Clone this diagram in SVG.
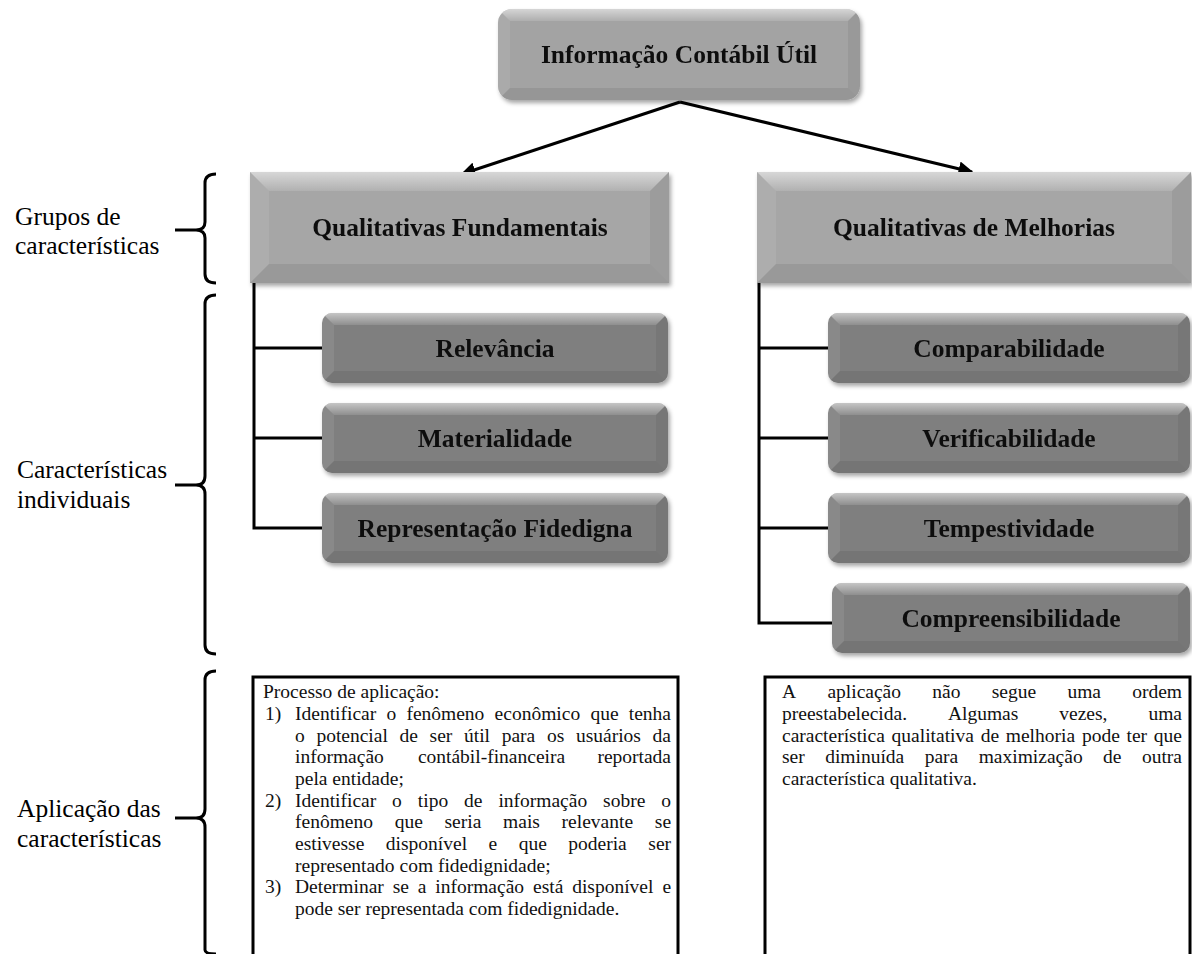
<svg xmlns="http://www.w3.org/2000/svg" width="1192" height="954" viewBox="0 0 1192 954">
  <style>
    .lbl { font-family: "Liberation Serif", "Times New Roman", serif; font-size: 25.5px; fill: #000; }
    .node-t { font-family: "Liberation Serif", "Times New Roman", serif; font-size: 25.5px; font-weight: bold; fill: #111; text-anchor: middle; }
    .body { font-family: "Liberation Serif", "Times New Roman", serif; font-size: 19.5px; fill: #111; }
    .wire { fill: none; stroke: #000; stroke-width: 3; }
    .brace { fill: none; stroke: #000; stroke-width: 3; stroke-linejoin: round; }
    .card { fill: #fff; stroke: #000; stroke-width: 3; }
    .g-base { fill: #a6a6a6; }
    .c-base { fill: #7f7f7f; }
    .t-base { fill: #a3a3a3; }
    .bv-top { fill: url(#bvTop); }
    .bv-left { fill: #ffffff; fill-opacity: 0.08; }
    .bv-right { fill: #000000; fill-opacity: 0.06; }
    .bv-bot { fill: #000000; fill-opacity: 0.08; }
  </style>
  <defs>
    <linearGradient id="bvTop" x1="0" y1="0" x2="0" y2="1">
      <stop offset="0" stop-color="#fff" stop-opacity="0.55"/>
      <stop offset="1" stop-color="#fff" stop-opacity="0.12"/>
    </linearGradient>
    <filter id="shadow" x="-5%" y="-10%" width="112%" height="130%">
      <feDropShadow dx="2" dy="3" stdDeviation="2" flood-color="#000" flood-opacity="0.35"/>
    </filter>
    <marker id="arrow" viewBox="0 0 10 10" refX="9" refY="5" markerWidth="5" markerHeight="5" orient="auto" markerUnits="strokeWidth">
      <path d="M0,0 L10,5 L0,10 z" fill="#000"/>
    </marker>
    <clipPath id="clipTop"><rect x="498" y="9" width="362" height="91" rx="14"/></clipPath>
    <clipPath id="clipL1"><rect x="322" y="313" width="346" height="70" rx="10"/></clipPath>
    <clipPath id="clipL2"><rect x="322" y="403" width="346" height="70" rx="10"/></clipPath>
    <clipPath id="clipL3"><rect x="322" y="493" width="346" height="70" rx="10"/></clipPath>
    <clipPath id="clipR1"><rect x="828" y="313" width="362" height="70" rx="10"/></clipPath>
    <clipPath id="clipR2"><rect x="828" y="403" width="362" height="70" rx="10"/></clipPath>
    <clipPath id="clipR3"><rect x="828" y="493" width="362" height="70" rx="10"/></clipPath>
    <clipPath id="clipR4"><rect x="832" y="583" width="358" height="70" rx="10"/></clipPath>
  </defs>

  <rect width="1192" height="954" fill="#fff"/>

  <!-- Connectors -->
  <g id="connectors">
    <line class="wire" x1="680" y1="102" x2="462" y2="174" marker-end="url(#arrow)"/>
    <line class="wire" x1="680" y1="102" x2="972" y2="172" marker-end="url(#arrow)"/>
    <polyline class="wire" points="254,283 254,528 322,528"/>
    <line class="wire" x1="254" y1="348" x2="322" y2="348"/>
    <line class="wire" x1="254" y1="438" x2="322" y2="438"/>
    <polyline class="wire" points="759,283 759,623 832,623"/>
    <line class="wire" x1="759" y1="348" x2="828" y2="348"/>
    <line class="wire" x1="759" y1="438" x2="828" y2="438"/>
    <line class="wire" x1="759" y1="528" x2="828" y2="528"/>
  </g>

  <!-- Row braces and labels -->
  <g id="row-groups">
    <path class="brace" d="M216,174 Q205,174 205,183 L205,222 Q205,230 196,230 L175,230 M196,230 Q205,230 205,238 L205,274 Q205,283 216,283"/>
    <text class="lbl" x="15" y="225">Grupos de</text>
    <text class="lbl" x="15" y="254">características</text>
  </g>
  <g id="row-individual">
    <path class="brace" d="M216,295 Q205,295 205,304 L205,476 Q205,485 196,485 L175,485 M196,485 Q205,485 205,494 L205,645 Q205,654 216,654"/>
    <text class="lbl" x="17" y="478">Características</text>
    <text class="lbl" x="17" y="508">individuais</text>
  </g>
  <g id="row-application">
    <path class="brace" d="M216,671 Q205,671 205,680 L205,809 Q205,818 196,818 L175,818 M196,818 Q205,818 205,827 L205,950 Q205,954 216,954"/>
    <text class="lbl" x="17" y="817">Aplicação das</text>
    <text class="lbl" x="17" y="847">características</text>
  </g>

  <!-- Root node -->
  <g id="node-root" filter="url(#shadow)">
    <rect class="t-base" x="498" y="9" width="362" height="91" rx="14"/>
    <g clip-path="url(#clipTop)">
      <polygon class="bv-top" points="498,9 860,9 848,21 510,21"/>
      <polygon class="bv-left" points="498,9 510,21 510,88 498,100"/>
      <polygon class="bv-right" points="860,9 848,21 848,88 860,100"/>
      <polygon class="bv-bot" points="498,100 860,100 848,88 510,88"/>
    </g>
    <text class="node-t" x="679" y="63">Informação Contábil Útil</text>
  </g>

  <!-- Group nodes -->
  <g id="node-fundamentais" filter="url(#shadow)">
    <rect class="g-base" x="250" y="172" width="419" height="111"/>
    <polygon class="bv-top" points="250,172 669,172 650,191 269,191"/>
    <polygon class="bv-left" points="250,172 269,191 269,264 250,283"/>
    <polygon class="bv-right" points="669,172 650,191 650,264 669,283"/>
    <polygon class="bv-bot" points="250,283 669,283 650,264 269,264"/>
    <text class="node-t" x="460" y="236">Qualitativas Fundamentais</text>
  </g>
  <g id="node-melhorias" filter="url(#shadow)">
    <rect class="g-base" x="757" y="172" width="434" height="111"/>
    <polygon class="bv-top" points="757,172 1191,172 1172,191 776,191"/>
    <polygon class="bv-left" points="757,172 776,191 776,264 757,283"/>
    <polygon class="bv-right" points="1191,172 1172,191 1172,264 1191,283"/>
    <polygon class="bv-bot" points="757,283 1191,283 1172,264 776,264"/>
    <text class="node-t" x="974" y="236">Qualitativas de Melhorias</text>
  </g>

  <!-- Fundamental characteristics -->
  <g id="node-relevancia" filter="url(#shadow)">
    <rect class="c-base" x="322" y="313" width="346" height="70" rx="10"/>
    <g clip-path="url(#clipL1)">
      <polygon class="bv-top" points="322,313 668,313 656,325 334,325"/>
      <polygon class="bv-left" points="322,313 334,325 334,371 322,383"/>
      <polygon class="bv-right" points="668,313 656,325 656,371 668,383"/>
      <polygon class="bv-bot" points="322,383 668,383 656,371 334,371"/>
    </g>
    <text class="node-t" x="495" y="357">Relevância</text>
  </g>
  <g id="node-materialidade" filter="url(#shadow)">
    <rect class="c-base" x="322" y="403" width="346" height="70" rx="10"/>
    <g clip-path="url(#clipL2)">
      <polygon class="bv-top" points="322,403 668,403 656,415 334,415"/>
      <polygon class="bv-left" points="322,403 334,415 334,461 322,473"/>
      <polygon class="bv-right" points="668,403 656,415 656,461 668,473"/>
      <polygon class="bv-bot" points="322,473 668,473 656,461 334,461"/>
    </g>
    <text class="node-t" x="495" y="447">Materialidade</text>
  </g>
  <g id="node-representacao" filter="url(#shadow)">
    <rect class="c-base" x="322" y="493" width="346" height="70" rx="10"/>
    <g clip-path="url(#clipL3)">
      <polygon class="bv-top" points="322,493 668,493 656,505 334,505"/>
      <polygon class="bv-left" points="322,493 334,505 334,551 322,563"/>
      <polygon class="bv-right" points="668,493 656,505 656,551 668,563"/>
      <polygon class="bv-bot" points="322,563 668,563 656,551 334,551"/>
    </g>
    <text class="node-t" x="495" y="537">Representação Fidedigna</text>
  </g>

  <!-- Enhancing characteristics -->
  <g id="node-comparabilidade" filter="url(#shadow)">
    <rect class="c-base" x="828" y="313" width="362" height="70" rx="10"/>
    <g clip-path="url(#clipR1)">
      <polygon class="bv-top" points="828,313 1190,313 1178,325 840,325"/>
      <polygon class="bv-left" points="828,313 840,325 840,371 828,383"/>
      <polygon class="bv-right" points="1190,313 1178,325 1178,371 1190,383"/>
      <polygon class="bv-bot" points="828,383 1190,383 1178,371 840,371"/>
    </g>
    <text class="node-t" x="1009" y="357">Comparabilidade</text>
  </g>
  <g id="node-verificabilidade" filter="url(#shadow)">
    <rect class="c-base" x="828" y="403" width="362" height="70" rx="10"/>
    <g clip-path="url(#clipR2)">
      <polygon class="bv-top" points="828,403 1190,403 1178,415 840,415"/>
      <polygon class="bv-left" points="828,403 840,415 840,461 828,473"/>
      <polygon class="bv-right" points="1190,403 1178,415 1178,461 1190,473"/>
      <polygon class="bv-bot" points="828,473 1190,473 1178,461 840,461"/>
    </g>
    <text class="node-t" x="1009" y="447">Verificabilidade</text>
  </g>
  <g id="node-tempestividade" filter="url(#shadow)">
    <rect class="c-base" x="828" y="493" width="362" height="70" rx="10"/>
    <g clip-path="url(#clipR3)">
      <polygon class="bv-top" points="828,493 1190,493 1178,505 840,505"/>
      <polygon class="bv-left" points="828,493 840,505 840,551 828,563"/>
      <polygon class="bv-right" points="1190,493 1178,505 1178,551 1190,563"/>
      <polygon class="bv-bot" points="828,563 1190,563 1178,551 840,551"/>
    </g>
    <text class="node-t" x="1009" y="537">Tempestividade</text>
  </g>
  <g id="node-compreensibilidade" filter="url(#shadow)">
    <rect class="c-base" x="832" y="583" width="358" height="70" rx="10"/>
    <g clip-path="url(#clipR4)">
      <polygon class="bv-top" points="832,583 1190,583 1178,595 844,595"/>
      <polygon class="bv-left" points="832,583 844,595 844,641 832,653"/>
      <polygon class="bv-right" points="1190,583 1178,595 1178,641 1190,653"/>
      <polygon class="bv-bot" points="832,653 1190,653 1178,641 844,641"/>
    </g>
    <text class="node-t" x="1011" y="627">Compreensibilidade</text>
  </g>

  <!-- Application process (fundamental) — justified lines set word by word -->
  <g id="card-processo">
    <rect class="card" x="253" y="677" width="425" height="290"/>
    <text class="body" x="263" y="698">Processo de aplicação:</text>
    <text class="body" x="265" y="720">1)</text>
    <text class="body" y="720"><tspan x="295">Identificar</tspan><tspan x="386.4">o</tspan><tspan x="406.4">fenômeno</tspan><tspan x="494.6">econômico</tspan><tspan x="590.4">que</tspan><tspan x="628.8">tenha</tspan></text>
    <text class="body" y="742"><tspan x="295">o</tspan><tspan x="316.4">potencial</tspan><tspan x="399.6">de</tspan><tspan x="429.6">ser</tspan><tspan x="464">útil</tspan><tspan x="501.7">para</tspan><tspan x="546.9">os</tspan><tspan x="575.9">usuários</tspan><tspan x="652.6">da</tspan></text>
    <text class="body" y="763"><tspan x="295">informação</tspan><tspan x="417.9">contábil-financeira</tspan><tspan x="597.4">reportada</tspan></text>
    <text class="body" x="295" y="785">pela entidade;</text>
    <text class="body" x="265" y="807">2)</text>
    <text class="body" y="807"><tspan x="295">Identificar</tspan><tspan x="392.1">o</tspan><tspan x="417.8">tipo</tspan><tspan x="464.1">de</tspan><tspan x="498.4">informação</tspan><tspan x="603.1">sobre</tspan><tspan x="661.3">o</tspan></text>
    <text class="body" y="828"><tspan x="295">fenômeno</tspan><tspan x="394.7">que</tspan><tspan x="444.5">seria</tspan><tspan x="503.1">mais</tspan><tspan x="561.6">relevante</tspan><tspan x="654.8">se</tspan></text>
    <text class="body" y="850"><tspan x="295">estivesse</tspan><tspan x="385.8">disponível</tspan><tspan x="488.5">e</tspan><tspan x="518.7">que</tspan><tspan x="568.3">poderia</tspan><tspan x="648.3">ser</tspan></text>
    <text class="body" x="295" y="872">representado com fidedignidade;</text>
    <text class="body" x="265" y="893">3)</text>
    <text class="body" y="893"><tspan x="295">Determinar</tspan><tspan x="392.7">se</tspan><tspan x="417.8">a</tspan><tspan x="435.3">informação</tspan><tspan x="533">está</tspan><tspan x="572.2">disponível</tspan><tspan x="662.4">e</tspan></text>
    <text class="body" x="295" y="915">pode ser representada com fidedignidade.</text>
  </g>

  <!-- Application note (enhancing) -->
  <g id="card-ordem">
    <rect class="card" x="765" y="677" width="425" height="290"/>
    <text class="body" y="698"><tspan x="782">A</tspan><tspan x="827.4">aplicação</tspan><tspan x="932.3">não</tspan><tspan x="991.7">segue</tspan><tspan x="1067.4">uma</tspan><tspan x="1132.2">ordem</tspan></text>
    <text class="body" y="720"><tspan x="782">preestabelecida.</tspan><tspan x="947.9">Algumas</tspan><tspan x="1059.3">vezes,</tspan><tspan x="1148.4">uma</tspan></text>
    <text class="body" y="742"><tspan x="782">característica</tspan><tspan x="891.6">qualitativa</tspan><tspan x="980.7">de</tspan><tspan x="1005.8">melhoria</tspan><tspan x="1081.9">pode</tspan><tspan x="1126.5">ter</tspan><tspan x="1153.8">que</tspan></text>
    <text class="body" y="763"><tspan x="782">ser</tspan><tspan x="825.2">diminuída</tspan><tspan x="924.7">para</tspan><tspan x="978.7">maximização</tspan><tspan x="1103.1">de</tspan><tspan x="1141.9">outra</tspan></text>
    <text class="body" x="782" y="785">característica qualitativa.</text>
  </g>
</svg>
